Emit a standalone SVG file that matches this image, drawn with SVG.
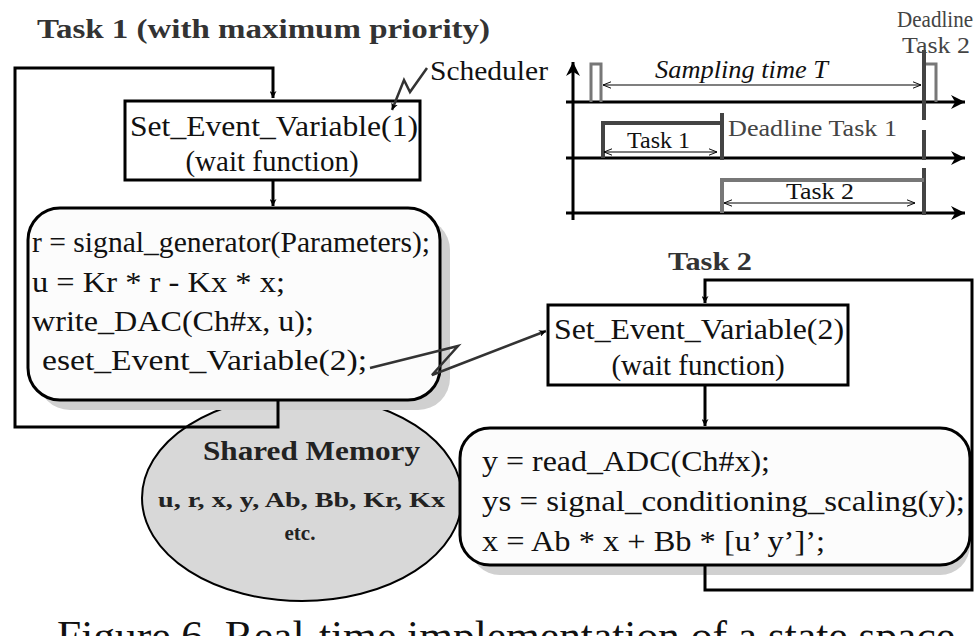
<svg xmlns="http://www.w3.org/2000/svg" width="975" height="636" viewBox="0 0 975 636">
<defs>
<marker id="a" viewBox="0 0 10 10" refX="10" refY="5" markerWidth="7" markerHeight="7" orient="auto" markerUnits="userSpaceOnUse"><path d="M0,0 L10,5 L0,10 L3,5 z" fill="#000"/></marker>
<marker id="big" viewBox="0 0 10 10" refX="10" refY="5" markerWidth="14" markerHeight="14" orient="auto" markerUnits="userSpaceOnUse"><path d="M0,0 L10,5 L0,10 L3,5 z" fill="#000"/></marker>
<marker id="t" viewBox="0 0 10 10" refX="10" refY="5" markerWidth="10" markerHeight="8" orient="auto-start-reverse" markerUnits="userSpaceOnUse"><path d="M0,1 L10,5 L0,9" fill="none" stroke="#000" stroke-width="1.2"/></marker>
</defs>
<style>
text{font-family:"Liberation Serif",serif;fill:#111}
.c{font-size:29px}
.b{font-weight:bold;fill:#333}
.ln{fill:none;stroke:#000;stroke-width:3}
.box{fill:#fff;stroke:#000;stroke-width:3}
</style>
<rect width="975" height="636" fill="#fff"/>
<text x="37" y="38" class="b" font-size="27" textLength="453" lengthAdjust="spacingAndGlyphs">Task 1 (with maximum priority)</text>
<text x="668" y="270" class="b" font-size="26" textLength="84" lengthAdjust="spacingAndGlyphs">Task 2</text>

<g id="memory">
<ellipse cx="302" cy="498" rx="160" ry="103" fill="#d8d8d8" stroke="#000" stroke-width="2"/>
<text x="203" y="460" class="b" font-size="28" textLength="217" lengthAdjust="spacingAndGlyphs" style="fill:#222">Shared Memory</text>
<text x="158" y="507" class="b" font-size="21" textLength="287" lengthAdjust="spacingAndGlyphs" style="fill:#222">u, r, x, y, Ab, Bb, Kr, Kx</text>
<text x="300" y="540" class="b" font-size="21" text-anchor="middle" style="fill:#222">etc.</text>
</g>

<g id="box1">
<rect x="125" y="101" width="295" height="79" class="box"/>
<text x="130" y="136" class="c" textLength="288" lengthAdjust="spacingAndGlyphs">Set_Event_Variable(1)</text>
<text x="272" y="171" class="c" text-anchor="middle">(wait function)</text>
</g>
<text x="430" y="80" font-size="27" textLength="118" lengthAdjust="spacingAndGlyphs">Scheduler</text>

<g id="box2">
<rect x="38" y="218" width="412" height="192" rx="32" fill="#d0d0d0"/>
<rect x="28" y="208" width="412" height="192" rx="32" fill="#fcfcfc" stroke="#000" stroke-width="3"/>
<text x="32" y="252" class="c" textLength="398" lengthAdjust="spacingAndGlyphs">r = signal_generator(Parameters);</text>
<text x="32" y="292" class="c" textLength="253" lengthAdjust="spacingAndGlyphs">u = Kr * r - Kx * x;</text>
<text x="32" y="331" class="c" textLength="282" lengthAdjust="spacingAndGlyphs">write_DAC(Ch#x, u);</text>
<text x="42" y="370" class="c" textLength="325" lengthAdjust="spacingAndGlyphs">eset_Event_Variable(2);</text>
</g>

<g id="box3">
<rect x="548" y="305" width="300" height="80" class="box"/>
<text x="554" y="339" class="c" textLength="290" lengthAdjust="spacingAndGlyphs">Set_Event_Variable(2)</text>
<text x="698" y="375" class="c" text-anchor="middle">(wait function)</text>
</g>

<g id="box4">
<rect x="470" y="438" width="500" height="137" rx="30" fill="#d0d0d0"/>
<rect x="460" y="428" width="510" height="137" rx="30" fill="#fcfcfc" stroke="#000" stroke-width="3"/>
<text x="482" y="471" class="c" textLength="288" lengthAdjust="spacingAndGlyphs">y = read_ADC(Ch#x);</text>
<text x="482" y="511" class="c" textLength="483" lengthAdjust="spacingAndGlyphs">ys = signal_conditioning_scaling(y);</text>
<text x="482" y="551" class="c" textLength="343" lengthAdjust="spacingAndGlyphs">x = Ab * x + Bb * [u’ y’]’;</text>
</g>

<g id="connectors">
<path class="ln" d="M278,400 V427 H15 V68 H273 V98" marker-end="url(#a)"/>
<path class="ln" d="M273,180 V206" marker-end="url(#a)"/>
<path class="ln" d="M705,565 V590 H972 V280 H705 V303" marker-end="url(#a)"/>
<path class="ln" d="M705,385 V426" marker-end="url(#a)"/>
<path d="M370,368 L458,346 L432,375 L546,331" fill="none" stroke="#333" stroke-width="2.5" marker-end="url(#a)"/>
<path d="M427,68 L410,92 L404,80 L392,110" fill="none" stroke="#333" stroke-width="2.5" marker-end="url(#a)"/>
</g>

<g id="timing">
<path class="ln" d="M573,220 V62" marker-end="url(#big)"/>
<path class="ln" d="M566,102 H965" marker-end="url(#big)"/>
<path class="ln" d="M566,158 H965" marker-end="url(#big)"/>
<path class="ln" d="M566,213 H965" marker-end="url(#big)"/>
<path d="M591,102 V64 H601 V102 M925,64 H936 V102" fill="none" stroke="#777" stroke-width="3"/>
<path d="M924,50 V215" fill="none" stroke="#444" stroke-width="4" stroke-dasharray="70,10,30,8"/>
<path d="M603,158 V123 H722 M722,113 V160" fill="none" stroke="#444" stroke-width="4"/>
<path d="M722,213 V180 H924" fill="none" stroke="#777" stroke-width="4"/>
<path d="M603,85 H921" stroke="#000" stroke-width="1.2" marker-start="url(#t)" marker-end="url(#t)"/>
<path d="M604,152 H717" stroke="#000" stroke-width="1.2" marker-start="url(#t)" marker-end="url(#t)"/>
<path d="M724,203 H915" stroke="#000" stroke-width="1.2" marker-start="url(#t)" marker-end="url(#t)"/>
<text x="655" y="78" font-size="25" font-style="italic" textLength="173" lengthAdjust="spacingAndGlyphs">Sampling time T</text>
<text x="627" y="148" font-size="24" textLength="63" lengthAdjust="spacingAndGlyphs">Task 1</text>
<text x="728" y="136" font-size="24" textLength="169" lengthAdjust="spacingAndGlyphs" style="fill:#444">Deadline Task 1</text>
<text x="786" y="199" font-size="24" textLength="68" lengthAdjust="spacingAndGlyphs">Task 2</text>
<text x="897" y="27" font-size="24" textLength="76" lengthAdjust="spacingAndGlyphs" style="fill:#444">Deadline</text>
<text x="902" y="53" font-size="24" textLength="68" lengthAdjust="spacingAndGlyphs" style="fill:#444">Task 2</text>
</g>

<text x="57" y="650" font-size="42" textLength="898" lengthAdjust="spacingAndGlyphs">Figure 6. Real-time implementation of a state space</text>
</svg>
